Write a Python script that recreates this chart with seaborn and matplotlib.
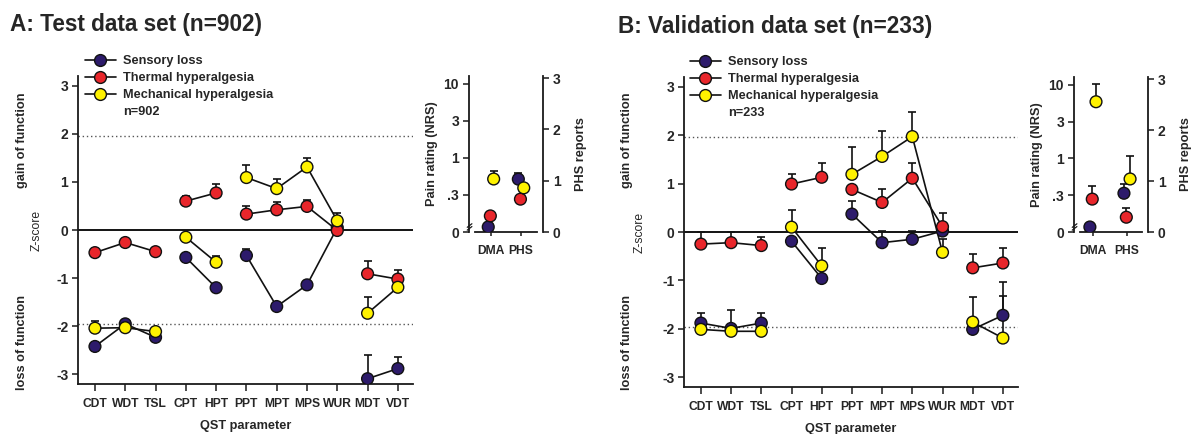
import numpy as np
import pandas as pd
import matplotlib
matplotlib.use('Agg')
import matplotlib.pyplot as plt
import seaborn as sns
from matplotlib.lines import Line2D

# ---------------- data ----------------
params = ['CDT', 'WDT', 'TSL', 'CPT', 'HPT', 'PPT', 'MPT', 'MPS', 'WUR', 'MDT', 'VDT']
param_groups = [0, 0, 0, 1, 1, 2, 2, 2, 2, 3, 3]
series = ['Sensory loss', 'Thermal hyperalgesia', 'Mechanical hyperalgesia']
colors = ['#2d1b6b', '#e8262b', '#fff200']

# Panel A: test data set (z-scores, upper error)
a_sensory = [-2.42, -1.95, -2.23, -0.57, -1.20, -0.53, -1.59, -1.14, 0.05, -3.09, -2.88]
a_sensory_err = [0.05, 0.05, 0.05, 0.04, 0.04, 0.13, 0.05, 0.05, 0.05, 0.50, 0.25]
a_thermal = [-0.47, -0.26, -0.45, 0.60, 0.77, 0.33, 0.42, 0.49, -0.01, -0.91, -1.02]
a_thermal_err = [0.03, 0.03, 0.03, 0.11, 0.18, 0.17, 0.17, 0.13, 0.03, 0.27, 0.19]
a_mech = [-2.04, -2.03, -2.11, -0.15, -0.67, 1.09, 0.86, 1.31, 0.19, -1.73, -1.19]
a_mech_err = [0.14, 0.05, 0.05, 0.04, 0.12, 0.27, 0.19, 0.18, 0.16, 0.33, 0.14]

# Panel B: validation data set
b_sensory = [-1.88, -1.99, -1.88, -0.19, -0.96, 0.37, -0.22, -0.15, 0.02, -2.01, -1.72]
b_sensory_err = [0.20, 0.39, 0.20, 0.05, 0.05, 0.26, 0.24, 0.18, 0.05, 0.05, 0.69]
b_thermal = [-0.25, -0.22, -0.28, 0.99, 1.13, 0.88, 0.61, 1.11, 0.11, -0.74, -0.64]
b_thermal_err = [0.24, 0.21, 0.18, 0.21, 0.30, 0.10, 0.28, 0.32, 0.28, 0.28, 0.30]
b_mech = [-2.01, -2.05, -2.05, 0.10, -0.70, 1.19, 1.56, 1.97, -0.42, -1.86, -2.19]
b_mech_err = [0.05, 0.05, 0.05, 0.36, 0.38, 0.56, 0.53, 0.51, 0.27, 0.52, 0.87]

# Insets: DMA pain rating (NRS, log axis) and PHS reports (right axis)
inset_cats = ['DMA', 'PHS']
a_dma = [0.117, 0.165, 0.52]
a_dma_err = [0.0, 0.0, 0.15]
a_phs = [1.03, 0.64, 0.86]
a_phs_err = [0.12, 0.0, 0.06]
b_dma = [0.117, 0.28, 5.9]
b_dma_err = [0.0, 0.14, 4.4]
b_phs = [0.76, 0.29, 1.04]
b_phs_err = [0.18, 0.18, 0.45]

nrs_ticks = [0.1, 10 ** -0.5, 1, 10 ** 0.5, 10]
nrs_labels = ['0', '.3', '1', '3', '10']
phs_ticks = [0, 1, 2, 3]

# ---------------- style ----------------
sns.set_style('ticks')
plt.rcParams['font.family'] = ['Liberation Sans', 'DejaVu Sans']
plt.rcParams['font.weight'] = 'bold'
SPINE = '#1a1a1a'
MS = 72
dodge = [-0.09, -0.02, 0.09]

fig = plt.figure(figsize=(11.96, 4.34), dpi=100)
W, H = 1196.0, 434.0


def fx(px):
    return px / W


def fy(py):
    return 1 - py / H


def draw_main(ax, data, errs, ntext, leg_xy):
    rows = []
    for s, vals in zip(series, data):
        for i, (g, v) in enumerate(zip(param_groups, vals)):
            rows.append(dict(series=s, x=i, z=v, unit=f'{s}-{g}'))
    df = pd.DataFrame(rows)
    ax.axhline(0, color='black', lw=1.3, zorder=1)
    for yv in (1.96, -1.96):
        ax.axhline(yv, color='#555555', lw=1.0, ls=(0, (1, 2)), zorder=1)
    sns.lineplot(data=df, x='x', y='z', units='unit', estimator=None, color='#111111',
                 lw=1.2, ax=ax, zorder=2, legend=False, sort=False)
    for s, vals, e in zip(series, data, errs):
        xs = np.arange(len(params))
        ax.errorbar(xs, vals, yerr=[np.zeros(len(e)), e], fmt='none', ecolor='#111111',
                    elinewidth=1.2, capsize=3, capthick=1.2, zorder=3)
    sns.scatterplot(data=df, x='x', y='z', hue='series', hue_order=series, palette=colors,
                    s=MS, edgecolor='#111111', linewidth=1.0, zorder=4, legend=False, ax=ax)
    ax.set_xlim(-0.56, 10.5)
    ax.set_ylim(-3.2, 3.2)
    ax.set_xticks(range(len(params)))
    ax.set_xticklabels(params, fontsize=8.7, fontweight='bold')
    ax.set_yticks([-3, -2, -1, 0, 1, 2, 3])
    ax.set_yticklabels(['-3', '-2', '-1', '0', '1', '2', '3'], fontsize=10, fontweight='bold')
    ax.set_xlabel('QST parameter', fontsize=9.2, fontweight='bold', labelpad=7)
    ax.set_ylabel('')
    for sp in ('top', 'right'):
        ax.spines[sp].set_visible(False)
    for sp in ('left', 'bottom'):
        ax.spines[sp].set_color(SPINE)
        ax.spines[sp].set_linewidth(1.3)
    ax.tick_params(axis='both', length=4, width=1.1, color=SPINE, pad=3)
    ax.tick_params(axis='x', length=5, pad=5)
    handles = [Line2D([0], [0], color='#111111', lw=1.2, marker='o', markersize=8.5,
                      markerfacecolor=c, markeredgecolor='#111111', markeredgewidth=1.0)
               for c in colors]
    handles.append(Line2D([0], [0], linestyle='none', marker=None))
    ax.legend(handles, series + [ntext], loc='upper left', bbox_to_anchor=leg_xy,
              bbox_transform=fig.transFigure, frameon=False,
              prop={'weight': 'bold', 'size': 9.2},
              handlelength=2.4, handletextpad=0.6, labelspacing=0.4,
              borderpad=0, borderaxespad=0)


def draw_inset(axi, dma, dma_err, phs, phs_err, xlim):
    ax2 = axi.twinx()
    ddf = pd.DataFrame(dict(series=series, x=[0 + d for d in dodge], y=dma))
    pdf = pd.DataFrame(dict(series=series, x=[1 + d for d in dodge], y=phs))
    axi.set_yscale('log')
    axi.errorbar(ddf['x'], ddf['y'], yerr=[np.zeros(3), dma_err], fmt='none',
                 ecolor='#111111', elinewidth=1.2, capsize=3, capthick=1.2, zorder=3)
    sns.scatterplot(data=ddf, x='x', y='y', hue='series', hue_order=series, palette=colors,
                    s=MS, edgecolor='#111111', linewidth=1.0, zorder=4, legend=False, ax=axi)
    ax2.errorbar(pdf['x'], pdf['y'], yerr=[np.zeros(3), phs_err], fmt='none',
                 ecolor='#111111', elinewidth=1.2, capsize=3, capthick=1.2, zorder=3)
    sns.scatterplot(data=pdf, x='x', y='y', hue='series', hue_order=series, palette=colors,
                    s=MS, edgecolor='#111111', linewidth=1.0, zorder=4, legend=False, ax=ax2)
    axi.set_xlim(*xlim)
    axi.set_ylim(0.1, 12.8)
    axi.minorticks_off()
    axi.set_yticks(nrs_ticks)
    axi.set_yticklabels(nrs_labels, fontsize=10, fontweight='bold')
    axi.set_xticks([0, 1])
    axi.set_xticklabels(inset_cats, fontsize=8.7, fontweight='bold')
    axi.set_xlabel('')
    axi.set_ylabel('Pain rating (NRS)', fontsize=9.2, fontweight='bold', labelpad=4)
    ax2.set_ylim(0, 3.04)
    ax2.set_yticks(phs_ticks)
    ax2.set_yticklabels([str(t) for t in phs_ticks], fontsize=10, fontweight='bold')
    ax2.set_ylabel('PHS reports', fontsize=9.2, fontweight='bold', labelpad=10)
    ax2.set_xlabel('')
    for sp in ('top', 'right'):
        axi.spines[sp].set_visible(False)
    for sp in ('top', 'left', 'bottom'):
        ax2.spines[sp].set_visible(False)
    axi.spines['left'].set_position(('outward', 4.5))
    ax2.spines['right'].set_position(('outward', 4.5))
    for a, sp in ((axi, 'left'), (axi, 'bottom'), (ax2, 'right')):
        a.spines[sp].set_color(SPINE)
        a.spines[sp].set_linewidth(1.3)
    axi.tick_params(axis='both', length=4, width=1.1, color=SPINE, pad=3)
    axi.tick_params(axis='x', length=3, pad=6)
    ax2.tick_params(axis='y', length=4, width=1.1, color=SPINE, pad=3)
    # axis break mark near zero on the left axis
    for off in (0.0, 0.018):
        axi.plot([-0.125, -0.05], [0.012 + off, 0.035 + off], transform=axi.transAxes,
                 color=SPINE, lw=0.9, clip_on=False, zorder=5)


# ---------------- Panel A ----------------
axA = fig.add_axes([fx(78), fy(384), fx(413 - 78), (384 - 76) / H])
draw_main(axA, [a_sensory, a_thermal, a_mech], [a_sensory_err, a_thermal_err, a_mech_err],
          'n=902', (fx(85), fy(55)))
axAi = fig.add_axes([fx(475), fy(232), fx(62), 156 / H])
draw_inset(axAi, a_dma, a_dma_err, a_phs, a_phs_err, (-0.53, 1.53))

fig.text(fx(10), fy(31), 'A: Test data set (n=902)', fontsize=16.3, fontweight='bold',
         va='baseline', ha='left')
fig.text(fx(37), fy(230), 'Z-score', rotation=90, fontsize=8.7, fontweight='normal',
         ha='center', va='center')
fig.text(fx(22), fy(140), 'gain of function', rotation=90, fontsize=9.2, fontweight='bold',
         ha='center', va='center')
fig.text(fx(22), fy(342), 'loss of function', rotation=90, fontsize=9.2, fontweight='bold',
         ha='center', va='center')

# ---------------- Panel B ----------------
axB = fig.add_axes([fx(684), fy(387), fx(1018 - 684), (387 - 77) / H])
draw_main(axB, [b_sensory, b_thermal, b_mech], [b_sensory_err, b_thermal_err, b_mech_err],
          'n=233', (fx(690), fy(56)))
axBi = fig.add_axes([fx(1080), fy(232), fx(62), 155 / H])
draw_inset(axBi, b_dma, b_dma_err, b_phs, b_phs_err, (-0.38, 1.44))

fig.text(fx(618), fy(33), 'B: Validation data set (n=233)', fontsize=16.3, fontweight='bold',
         va='baseline', ha='left')
fig.text(fx(640), fy(232), 'Z-score', rotation=90, fontsize=8.7, fontweight='normal',
         ha='center', va='center')
fig.text(fx(627), fy(140), 'gain of function', rotation=90, fontsize=9.2, fontweight='bold',
         ha='center', va='center')
fig.text(fx(627), fy(343), 'loss of function', rotation=90, fontsize=9.2, fontweight='bold',
         ha='center', va='center')

fig.savefig('out.png', dpi=100)
